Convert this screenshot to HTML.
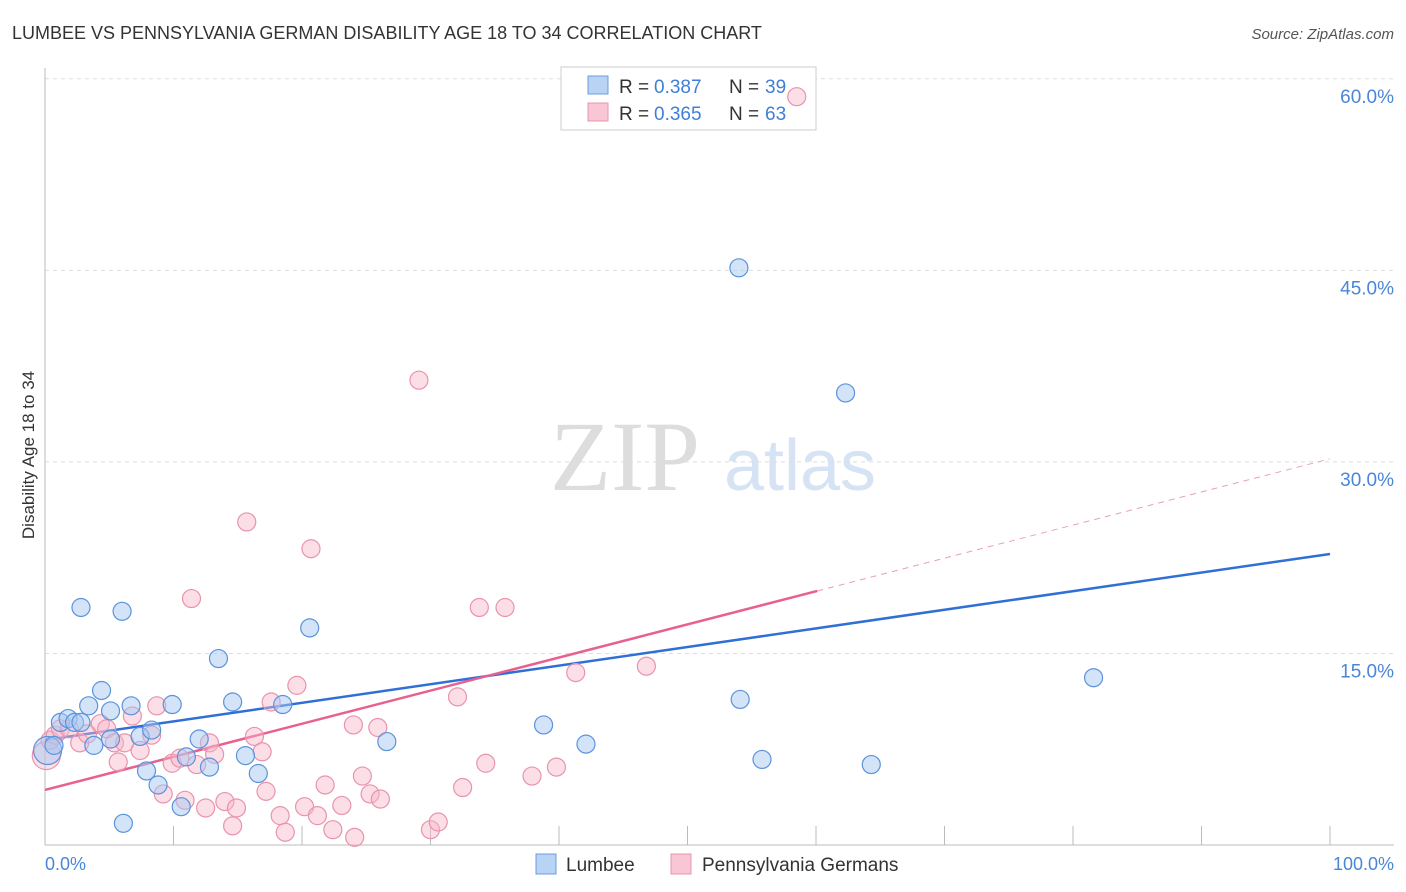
<!DOCTYPE html>
<html><head><meta charset="utf-8"><style>
body{margin:0;background:#fff;font-family:"Liberation Sans",sans-serif}
svg{display:block}
</style></head><body>
<svg width="1406" height="892" xmlns="http://www.w3.org/2000/svg" font-family="Liberation Sans, sans-serif">
<text x="12" y="39" font-size="18" fill="#333">LUMBEE VS PENNSYLVANIA GERMAN DISABILITY AGE 18 TO 34 CORRELATION CHART</text>
<text x="1394" y="39" font-size="15" fill="#555" font-style="italic" text-anchor="end">Source: ZipAtlas.com</text>
<text x="625" y="490" font-size="100" fill="#ddd" font-family="Liberation Serif, serif" text-anchor="middle">ZIP</text>
<text x="800" y="490" font-size="72" fill="#d5e3f5" text-anchor="middle">atlas</text>
<g id="grid"></g>
<line x1="45" y1="68" x2="45" y2="845" stroke="#bbb"/>
<line x1="45" y1="845" x2="1394" y2="845" stroke="#bbb"/>
<text transform="translate(34,455) rotate(-90)" font-size="17" fill="#333" text-anchor="middle">Disability Age 18 to 34</text>
<text x="45" y="870" font-size="18" fill="#4a86d8">0.0%</text>
<text x="1394" y="870" font-size="18" fill="#4a86d8" text-anchor="end">100.0%</text>
<g id="lines"></g>
<rect x="561" y="67" width="255" height="63" fill="#fff" stroke="#ccc"/>
<rect x="588" y="76" width="20" height="18" fill="#b9d3f5" stroke="#6a9be0"/>
<rect x="588" y="103" width="20" height="18" fill="#f9c6d5" stroke="#e895ae"/>
<g font-size="19" fill="#333">
<text x="619" y="93">R =</text><text x="654" y="93" fill="#3f7fd6">0.387</text><text x="729" y="93">N =</text><text x="765" y="93" fill="#3f7fd6">39</text></g>
<g font-size="19" fill="#333">
<text x="619" y="120">R =</text><text x="654" y="120" fill="#3f7fd6">0.365</text><text x="729" y="120">N =</text><text x="765" y="120" fill="#3f7fd6">63</text></g>
<g id="pts"></g>
<rect x="536" y="854" width="20" height="20" fill="#b9d3f5" stroke="#6a9be0"/>
<text x="566" y="871" font-size="19" fill="#333">Lumbee</text>
<rect x="671" y="854" width="20" height="20" fill="#f9c6d5" stroke="#e895ae"/>
<text x="702" y="871" font-size="19" fill="#333">Pennsylvania Germans</text>
</svg>
<script>
const yTicks=[15,30,45,60];
const yTickLabels=["15.0%","30.0%","45.0%","60.0%"];
const xTicks=[10,20,30,40,50,60,70,80,90,100];
const lumbeeX=[0.2,0.7,1.2,1.8,2.3,2.8,2.8,3.4,3.8,4.4,5.1,5.1,6.0,6.1,6.7,7.4,7.9,8.3,8.8,9.9,10.6,11.0,12.0,12.8,13.5,14.6,15.6,16.6,18.5,20.6,26.6,38.8,42.1,54.0,54.1,55.8,62.3,64.3,81.6];
const lumbeeY=[7.4,7.8,9.6,9.9,9.6,9.6,18.6,10.9,7.8,12.1,10.5,8.3,18.3,1.7,10.9,8.5,5.8,9.0,4.7,11.0,3.0,6.9,8.3,6.1,14.6,11.2,7.0,5.6,11.0,17.0,8.1,9.4,7.9,45.2,11.4,6.7,35.4,6.3,13.1];
const pennX=[0.1,0.4,0.8,1.2,1.9,2.7,3.3,4.3,4.8,5.4,5.7,6.2,6.8,7.4,8.3,8.7,9.2,9.9,10.5,10.9,11.4,11.8,12.5,12.8,13.2,14.0,14.6,14.9,15.7,16.3,16.9,17.2,17.6,18.3,18.7,19.6,20.2,20.7,21.2,21.8,22.4,23.1,24.0,24.1,24.7,25.3,25.9,26.1,29.1,30.0,30.6,32.5,32.1,33.8,34.3,35.8,37.9,39.8,41.3,46.8,58.5];
const pennY=[7.0,8.2,8.6,9.1,9.1,8.0,8.7,9.5,9.1,8.0,6.5,8.0,10.1,7.4,8.6,10.9,4.0,6.4,6.8,3.5,19.3,6.3,2.9,8.0,7.1,3.4,1.5,2.9,25.3,8.5,7.3,4.2,11.2,2.3,1.0,12.5,3.0,23.2,2.3,4.7,1.2,3.1,9.4,0.6,5.4,4.0,9.2,3.6,36.4,1.2,1.8,4.5,11.6,18.6,6.4,18.6,5.4,6.1,13.5,14.0,58.6];
const lumbeeTrend=[8.22,22.79];
const pennTrend=[4.31,30.24];
const pennSolidEnd=60.1;
const NS="http://www.w3.org/2000/svg";
const X=v=>45+v*12.85, Y=v=>845-v*12.77;
function mk(t,a,p){const e=document.createElementNS(NS,t);for(const k in a)e.setAttribute(k,a[k]);p.appendChild(e);return e;}
const grid=document.getElementById('grid');
yTicks.forEach((t,i)=>{
 const l=mk('line',{x1:45,x2:1394,y1:Y(t),y2:Y(t),stroke:'#ddd','stroke-dasharray':'4,4'},grid);
 
 
 const tx=mk('text',{x:1394,y:Y(t)+24,'font-size':19,fill:'#4a86d8','text-anchor':'end'},grid);
 tx.textContent=yTickLabels[i];
 
 
});
xTicks.forEach(t=>{
 const l=mk('line',{x1:X(t),x2:X(t),y1:826,y2:845,stroke:'#bbb'},grid);
 
 
});
const pts=document.getElementById('pts');
pennX.forEach((x,i)=>{
 const c=mk('circle',{cx:X(x),cy:Y(pennY[i]),r:i==0?14:9,fill:'rgba(248,182,202,0.45)',stroke:'#e993ad','stroke-width':1.2},pts);
 
 
});
lumbeeX.forEach((x,i)=>{
 const c=mk('circle',{cx:X(x),cy:Y(lumbeeY[i]),r:i==0?14:9,fill:'rgba(168,200,242,0.5)',stroke:'#5b93dc','stroke-width':1.2},pts);
 
 
});
const lines=document.getElementById('lines');
const pAt=x=>pennTrend[0]+(pennTrend[1]-pennTrend[0])*x/100;
let l1=mk('line',{x1:X(0),y1:Y(lumbeeTrend[0]),x2:X(100),y2:Y(lumbeeTrend[1]),stroke:'#2f6fd6','stroke-width':2.5},lines);


let l2=mk('line',{x1:X(0),y1:Y(pAt(0)),x2:X(pennSolidEnd),y2:Y(pAt(pennSolidEnd)),stroke:'#e8608f','stroke-width':2.5},lines);


let l3=mk('line',{x1:X(pennSolidEnd),y1:Y(pAt(pennSolidEnd)),x2:X(100),y2:Y(pAt(100)),stroke:'#eaa0b8','stroke-width':1,'stroke-dasharray':'6,5'},lines);


</script>
</body></html>
